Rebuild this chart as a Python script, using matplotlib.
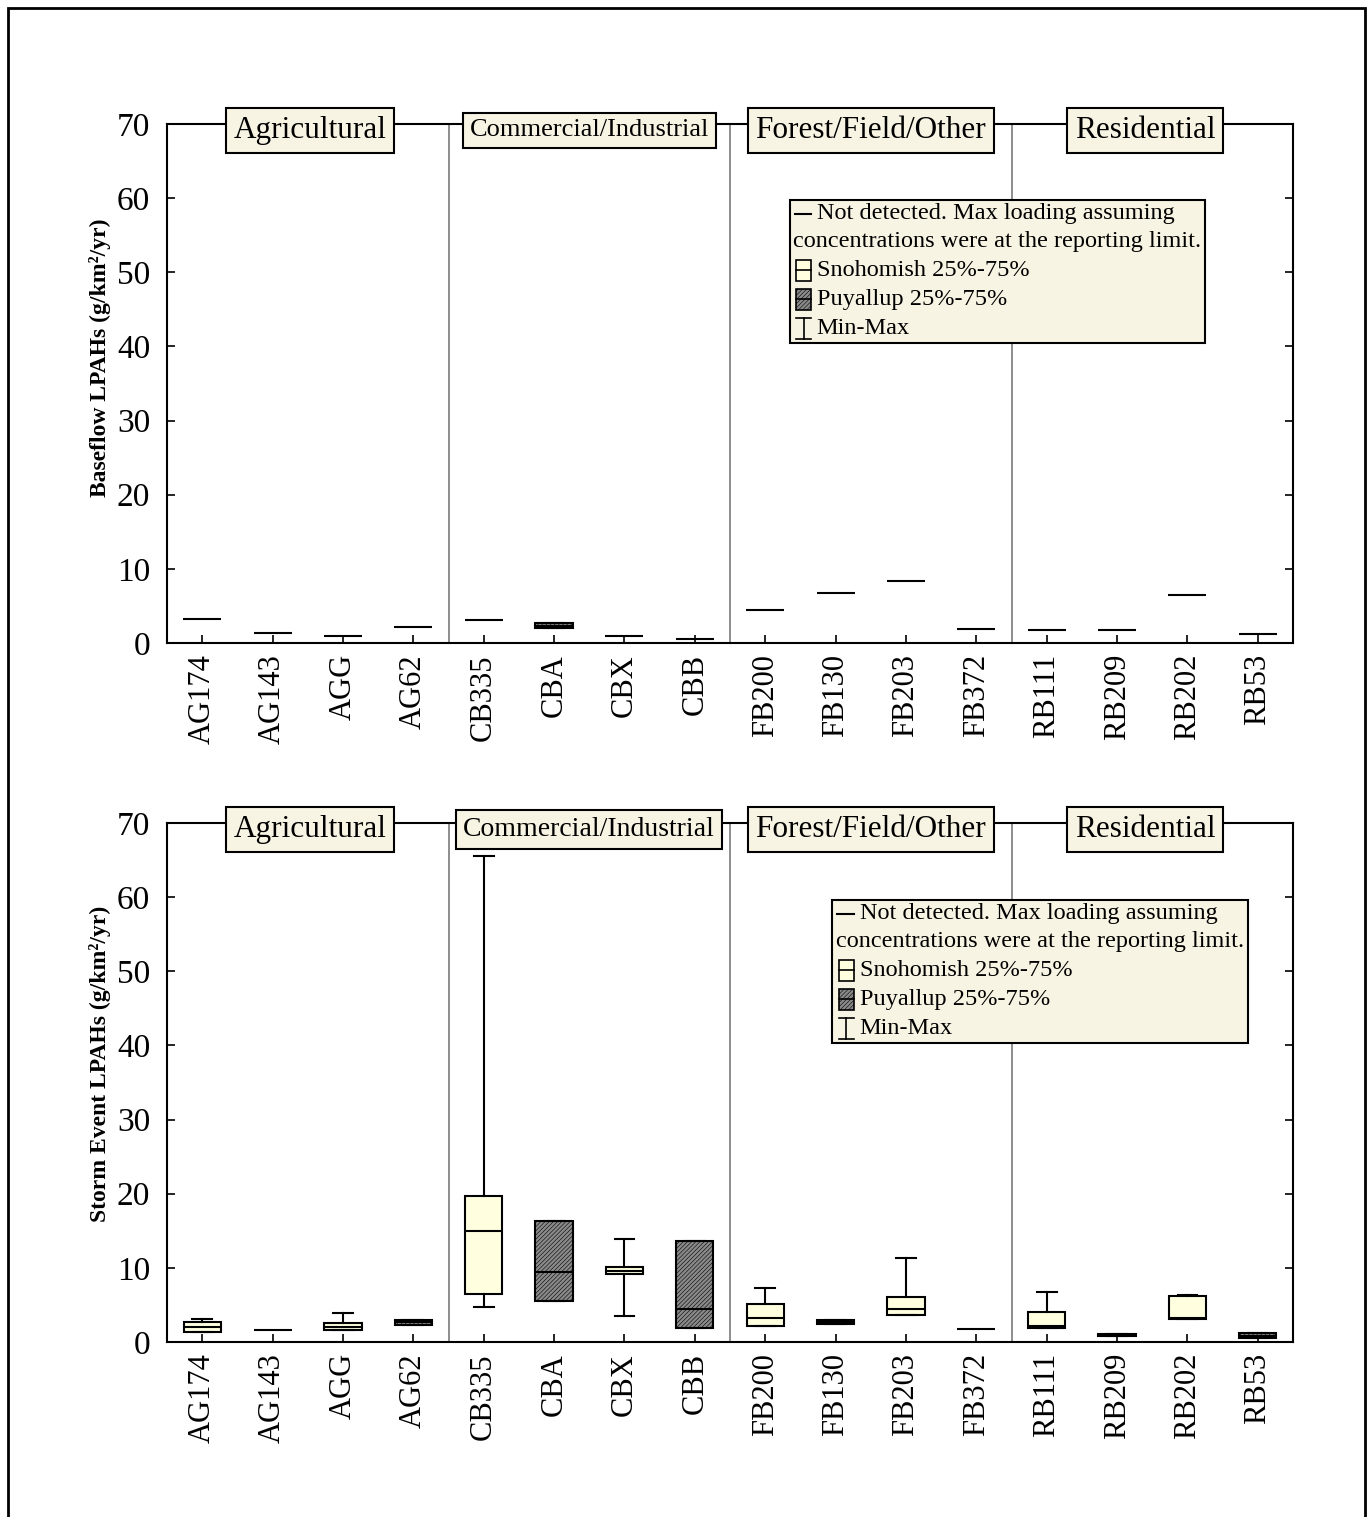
import numpy as np
import matplotlib
matplotlib.use("Agg")
import matplotlib.pyplot as plt
from matplotlib.patches import Rectangle
from matplotlib.lines import Line2D
from matplotlib.offsetbox import AnchoredOffsetbox, VPacker, HPacker, TextArea, DrawingArea

plt.rcParams['font.family'] = ['Liberation Serif', 'DejaVu Serif']
plt.rcParams['hatch.linewidth'] = 0.4

# ---------------- data ----------------
sites = ['AG174', 'AG143', 'AGG', 'AG62', 'CB335', 'CBA', 'CBX', 'CBB',
         'FB200', 'FB130', 'FB203', 'FB372', 'RB111', 'RB209', 'RB202', 'RB53']
basin = ['S', 'S', 'S', 'P', 'S', 'P', 'S', 'P',
         'S', 'P', 'S', 'S', 'S', 'S', 'S', 'P']
groups = ['Agricultural', 'Commercial/Industrial', 'Forest/Field/Other', 'Residential']

# Baseflow (nd = 1: not detected, value = max loading at reporting limit)
base_nd  = [1, 1, 1, 1, 1, 0, 1, 1, 1, 1, 1, 1, 1, 1, 1, 1]
base_min = [3.2, 1.3, 0.9, 2.1, 3.1, 2.0, 1.0, 0.5, 4.5, 6.8, 8.4, 1.85, 1.8, 1.75, 6.5, 1.2]
base_q1  = [3.2, 1.3, 0.9, 2.1, 3.1, 2.0, 1.0, 0.5, 4.5, 6.8, 8.4, 1.85, 1.8, 1.75, 6.5, 1.2]
base_med = [3.2, 1.3, 0.9, 2.1, 3.1, 2.35, 1.0, 0.5, 4.5, 6.8, 8.4, 1.85, 1.8, 1.75, 6.5, 1.2]
base_q3  = [3.2, 1.3, 0.9, 2.1, 3.1, 2.7, 1.0, 0.5, 4.5, 6.8, 8.4, 1.85, 1.8, 1.75, 6.5, 1.2]
base_max = [3.2, 1.3, 0.9, 2.1, 3.1, 2.7, 1.0, 0.5, 4.5, 6.8, 8.4, 1.85, 1.8, 1.75, 6.5, 1.2]

# Storm event
storm_nd  = [0, 1, 0, 0, 0, 0, 0, 0, 0, 0, 0, 1, 0, 0, 0, 0]
storm_min = [1.3, 1.6, 1.6, 2.33, 4.72, 5.49, 3.55, 1.89, 2.1, 2.39, 3.6, 1.71, 1.9, 0.75, 3.1, 0.54]
storm_q1  = [1.35, 1.6, 1.6, 2.33, 6.47, 5.49, 9.2, 1.89, 2.12, 2.39, 3.64, 1.71, 1.93, 0.75, 3.15, 0.54]
storm_med = [2.0, 1.6, 2.06, 2.65, 14.93, 9.48, 9.6, 4.41, 3.2, 2.7, 4.41, 1.71, 2.1, 0.9, 3.2, 0.85]
storm_q3  = [2.74, 1.6, 2.56, 2.97, 19.65, 16.3, 10.07, 13.66, 5.13, 2.97, 6.07, 1.71, 4.0, 1.05, 6.16, 1.17]
storm_max = [3.1, 1.6, 3.9, 2.97, 65.6, 16.3, 13.9, 13.66, 7.24, 2.97, 11.37, 1.71, 6.79, 1.05, 6.38, 1.17]

yticks = [0, 10, 20, 30, 40, 50, 60, 70]
group_label_x = [1.53, 5.5, 9.5, 13.4]

# ---------------- style ----------------
SNO = '#FFFFE0'
PUY = '#8a8a8a'
CREAM = '#F8F4E3'
LW = 1.5

W, H = 1372, 1517
fig = plt.figure(figsize=(W / 100, H / 100), dpi=100)

# outer frame
fig.add_artist(Rectangle((8 / W, -0.02), (1365 - 8) / W, 1.02 - 8 / H,
                         transform=fig.transFigure, fill=False, lw=2, ec='black'))


def legend_box(ax, anchor):
    fp = dict(family='Liberation Serif', size=17.5)
    def sym_line():
        da = DrawingArea(14, 14, 0, 0)
        da.add_artist(Line2D([1, 13], [7, 7], color='k', lw=LW))
        return da
    def sym_box(fc, hatch=None):
        da = DrawingArea(14, 16, 0, 0)
        r = Rectangle((2, 0.5), 11, 15, fc=fc, ec='k', lw=1.2, hatch=hatch)
        da.add_artist(r)
        da.add_artist(Line2D([2, 13], [8, 8], color='k', lw=1.2))
        return da
    def sym_minmax():
        da = DrawingArea(14, 16, 0, 0)
        da.add_artist(Line2D([7.5, 7.5], [0.5, 15.5], color='k', lw=1.2))
        da.add_artist(Line2D([2, 13], [0.5, 0.5], color='k', lw=1.2))
        da.add_artist(Line2D([2, 13], [15.5, 15.5], color='k', lw=1.2))
        return da
    def row(sym, txt):
        return HPacker(children=[sym, TextArea(txt, textprops=fp)], align='center', pad=0, sep=3)
    rows = [row(sym_line(), 'Not detected. Max loading assuming'),
            TextArea('concentrations were at the reporting limit.', textprops=fp),
            row(sym_box(SNO), 'Snohomish 25%-75%'),
            row(sym_box(PUY, '////////'), 'Puyallup 25%-75%'),
            row(sym_minmax(), 'Min-Max')]
    vp = VPacker(children=rows, align='left', pad=0, sep=5)
    ab = AnchoredOffsetbox(loc='upper left', child=vp, bbox_to_anchor=anchor,
                           bbox_transform=ax.transAxes, frameon=True, pad=0.25, borderpad=0)
    ab.patch.set_facecolor(CREAM)
    ab.patch.set_edgecolor('black')
    ab.patch.set_linewidth(LW)
    ab.patch.set_boxstyle('square,pad=0')
    ab.set_zorder(10)
    ax.add_artist(ab)


def panel(rect, nd, mn, q1, med, q3, mx, ylabel, ylabel_y, legend_anchor, ci_size):
    ax = fig.add_axes(rect)
    x = np.arange(len(sites))
    stats, pos, cols = [], [], []
    for i in range(len(sites)):
        if nd[i]:
            continue
        stats.append(dict(med=med[i], q1=q1[i], q3=q3[i], whislo=mn[i], whishi=mx[i], fliers=[]))
        pos.append(x[i])
        cols.append(basin[i])
    if stats:
        bp = ax.bxp(stats, positions=pos, widths=0.53, capwidths=0.28, patch_artist=True,
                    showfliers=False,
                    boxprops=dict(lw=LW, edgecolor='black'),
                    medianprops=dict(color='black', lw=LW),
                    whiskerprops=dict(color='black', lw=LW),
                    capprops=dict(color='black', lw=LW))
        for patch, b in zip(bp['boxes'], cols):
            if b == 'S':
                patch.set_facecolor(SNO)
            else:
                patch.set_facecolor(PUY)
                patch.set_hatch('////////')
    ndx = [x[i] for i in range(len(sites)) if nd[i]]
    ndy = [med[i] for i in range(len(sites)) if nd[i]]
    ax.hlines(ndy, np.array(ndx) - 0.27, np.array(ndx) + 0.27, color='black', lw=LW)

    for d in [3.5, 7.5, 11.5]:
        ax.axvline(d, color='#7a7a7a', lw=1.2, zorder=0)

    ax.set_xlim(-0.5, len(sites) - 0.5)
    ax.set_ylim(0, 70)
    ax.set_yticks(yticks)
    ax.set_yticklabels([str(v) for v in yticks], fontsize=24)
    ax.set_xticks(x)
    ax.set_xticklabels(sites, rotation=90, fontsize=22)
    ax.tick_params(axis='y', direction='in', length=6, width=1.2, left=True, right=True, pad=12)
    ax.tick_params(axis='x', direction='in', length=6, width=1.2, bottom=True, top=False, pad=8)
    for s in ax.spines.values():
        s.set_linewidth(LW)
    ax.set_ylabel(ylabel, fontsize=17, fontweight='bold')
    ax.yaxis.set_label_coords(-0.05, ylabel_y)

    for g, gx in zip(groups, group_label_x):
        fs = ci_size if g == 'Commercial/Industrial' else 22.5
        ax.text(gx, 0.988, g, transform=ax.get_xaxis_transform(), ha='center', va='center',
                fontsize=fs, zorder=12,
                bbox=dict(boxstyle='square,pad=0.25', fc=CREAM, ec='black', lw=LW))
    legend_box(ax, legend_anchor)
    return ax


ax_left = 167 / W
ax_w = (1293 - 167) / W
ax_h = (643 - 124) / H
panel([ax_left, 1 - 643 / H, ax_w, ax_h], base_nd, base_min, base_q1, base_med, base_q3, base_max,
      'Baseflow LPAHs (g/km²/yr)', 0.55, (0.553, 0.854), 19)
panel([ax_left, 1 - 1342 / H, ax_w, ax_h], storm_nd, storm_min, storm_q1, storm_med, storm_q3, storm_max,
      'Storm Event LPAHs (g/km²/yr)', 0.535, (0.591, 0.852), 20)

fig.savefig('out.png', dpi=100)
